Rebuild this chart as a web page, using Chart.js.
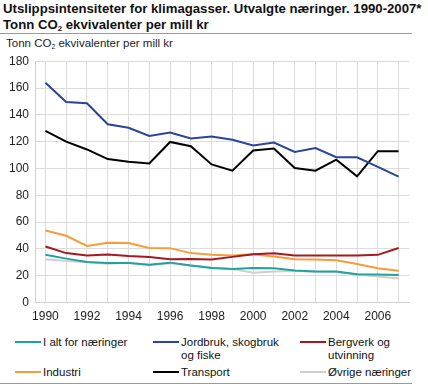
<!DOCTYPE html>
<html>
<head>
<meta charset="utf-8">
<script src="https://cdn.jsdelivr.net/npm/chart.js@4/dist/chart.umd.min.js"></script>
<style>
  body { margin: 0; width: 428px; height: 386px; background: #fff; font-family: "Liberation Sans", Arial, sans-serif; position: relative; overflow: hidden; }
  #title { position: absolute; left: 3px; top: 1px; font-weight: bold; font-size: 13.2px; line-height: 16px; color: #111; }
  #sep { position: absolute; left: 0; top: 33px; width: 412px; height: 1px; background: #9a9a9a; }
  #ytitle { position: absolute; left: 6px; top: 37px; font-size: 11.5px; color: #222; }
  #wrap { position: absolute; left: 0; top: 48px; width: 428px; height: 285px; }
  #legend { position: absolute; left: 0; top: 336px; width: 428px; font-size: 11.5px; color: #111; }
  .item { position: absolute; display: flex; align-items: flex-start; line-height: 13px; }
  .item span.l { display: inline-block; width: 26px; height: 2px; margin-top: 5px; margin-right: 2px; }
  #bottom { position: absolute; left: 0; top: 383px; width: 412px; height: 1px; background: #9a9a9a; }
  sub { font-size: 0.6em; vertical-align: -0.25em; line-height: 0; }
</style>
</head>
<body>
<div id="title">Utslippsintensiteter for klimagasser. Utvalgte næringer. 1990-2007*<br>Tonn CO<sub>2</sub> ekvivalenter per mill kr</div>
<div id="sep"></div>
<div id="ytitle">Tonn CO<sub>2</sub> ekvivalenter per mill kr</div>
<div id="wrap"><canvas id="chart"></canvas></div>
<div id="legend"></div>
<div id="bottom"></div>
<script>
// Årstall (kategorier)
const years = ['1990','1991','1992','1993','1994','1995','1996','1997','1998','1999','2000','2001','2002','2003','2004','2005','2006','2007'];

// Seriene
const iAlt      = [35.6, 32.8, 30.3, 29.6, 29.6, 28.2, 29.8, 27.6, 25.8, 25.1, 25.8, 25.6, 23.9, 23.2, 23.2, 21.2, 21.0, 20.5];
const jordbruk  = [164, 149.5, 148.7, 133, 130.4, 124.3, 126.8, 122.4, 123.8, 121.4, 117.2, 119.4, 112.4, 115.2, 108.4, 108.3, 101.2, 94];
const bergverk  = [41.8, 36.9, 35.2, 35.9, 34.7, 34.0, 32.3, 32.5, 32.1, 34.1, 36.0, 36.8, 35.2, 35.2, 35.2, 35.2, 35.6, 40.7];
const industri  = [53.8, 49.8, 42.3, 44.6, 44.4, 40.8, 40.6, 36.9, 35.6, 35.1, 36.0, 34.4, 32.4, 32.2, 31.6, 28.8, 25.6, 23.7];
const transport = [128, 120, 114.2, 107, 105, 103.8, 119.8, 116.6, 103, 98.4, 113.4, 114.9, 100.3, 98.4, 106.6, 94.2, 112.9, 112.9];
const ovrige    = [32.4, 31.0, 30.0, 29.0, 29.8, 28.1, 29.4, 27.7, 26.1, 25.0, 22.2, 23.1, 23.6, 23.0, 22.8, 21.0, 19.4, 17.9];

const yTicks = [0, 20, 40, 60, 80, 100, 120, 140, 160, 180];

const series = [
  { label: 'I alt for næringer', data: iAlt, color: '#1fa39d', x: 15, y: 0 },
  { label: 'Jordbruk, skogbruk\nog fiske', data: jordbruk, color: '#2a4596', x: 153, y: 0 },
  { label: 'Bergverk og\nutvinning', data: bergverk, color: '#a5191f', x: 300, y: 0 },
  { label: 'Industri', data: industri, color: '#f89b3a', x: 15, y: 30 },
  { label: 'Transport', data: transport, color: '#000000', x: 153, y: 30 },
  { label: 'Øvrige næringer', data: ovrige, color: '#cfcfcf', x: 300, y: 30 }
];

// Tegn rekkefølge: grå nederst
const drawOrder = [5, 0, 3, 2, 4, 1];

// Legende i HTML (teksten brytes over to linjer)
const legend = document.getElementById('legend');
series.forEach(s => {
  const div = document.createElement('div');
  div.className = 'item';
  div.style.left = s.x + 'px';
  div.style.top = s.y + 'px';
  div.innerHTML = '<span class="l" style="background:' + s.color + '"></span><span>' + s.label.replace('\n', '<br>') + '</span>';
  legend.appendChild(div);
});

const ctx = document.getElementById('chart').getContext('2d');
new Chart(ctx, {
  type: 'line',
  data: {
    labels: years,
    datasets: drawOrder.map((i, k) => ({
      label: series[i].label,
      data: series[i].data,
      borderColor: series[i].color,
      backgroundColor: series[i].color,
      borderWidth: 2,
      pointRadius: 0,
      tension: 0,
      order: drawOrder.length - k
    }))
  },
  options: {
    responsive: true,
    maintainAspectRatio: false,
    animation: false,
    layout: { padding: { left: 3, right: 19, top: 6, bottom: 2 } },
    plugins: { legend: { display: false }, tooltip: { enabled: false } },
    scales: {
      x: {
        offset: true,
        grid: { offset: false, color: '#dcdcdc', lineWidth: 1, drawTicks: false },
        border: { color: '#d0d0d0' },
        ticks: {
          color: '#222', font: { family: 'Liberation Sans', size: 12 },
          autoSkip: false, maxRotation: 0, padding: 7,
          callback: function(v, i) { return i % 2 === 0 ? years[i] : ''; }
        }
      },
      y: {
        min: 0, max: 180,
        afterBuildTicks: axis => { axis.ticks = yTicks.map(v => ({ value: v })); },
        grid: { color: '#dcdcdc', lineWidth: 1, drawTicks: false },
        border: { color: '#d0d0d0' },
        ticks: { color: '#222', font: { family: 'Liberation Sans', size: 12 }, padding: 6 }
      }
    }
  }
});
</script>
</body>
</html>
